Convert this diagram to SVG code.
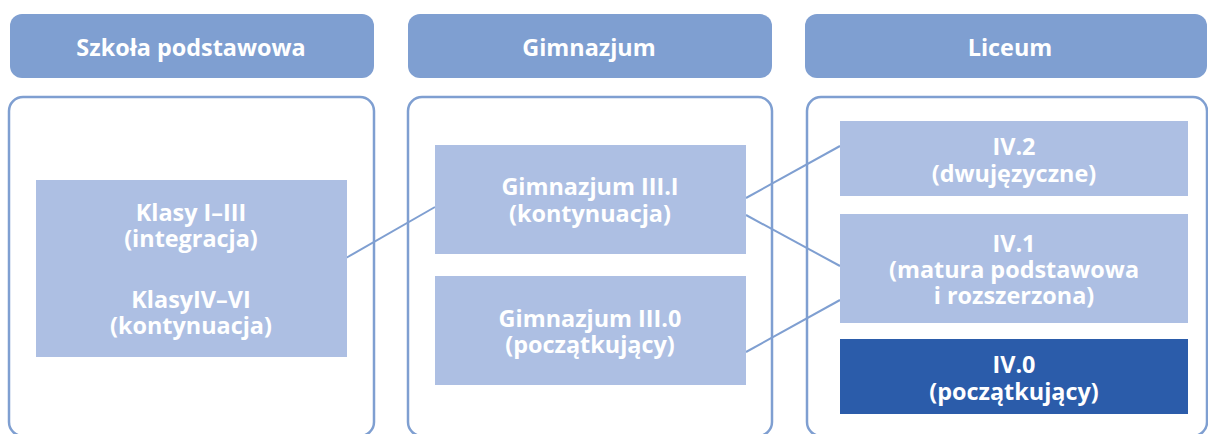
<svg xmlns="http://www.w3.org/2000/svg" width="1208" height="434" viewBox="0 0 1208 434">
<style>
.hdr{fill:#7f9fd1}
.box{fill:none;stroke:#7f9fd1;stroke-width:2.5}
.node{fill:#adbfe3}
.dark{fill:#2b5caa}
text{font-family:"Open Sans","Noto Sans","DejaVu Sans",sans-serif;font-weight:700;fill:#ffffff;text-anchor:middle}
.h{font-size:23.4px}
.t{font-size:23.4px}
.conn line{stroke:#7f9fd1;stroke-width:2}
</style>
<rect width="1208" height="434" fill="#ffffff"/>
<g id="col-szkola">
<rect class="hdr" x="10" y="14" width="364" height="64" rx="12"/>
<text class="h" x="191" y="56">Szkoła podstawowa</text>
<rect class="box" x="9" y="97" width="365" height="339" rx="14"/>
</g>
<g id="col-gimnazjum">
<rect class="hdr" x="408" y="14" width="364" height="64" rx="12"/>
<text class="h" x="589" y="56">Gimnazjum</text>
<rect class="box" x="408" y="97" width="364" height="339" rx="14"/>
</g>
<g id="col-liceum">
<rect class="hdr" x="805" y="14" width="402" height="64" rx="12"/>
<text class="h" x="1010" y="56">Liceum</text>
<rect class="box" x="807" y="97" width="400" height="339" rx="14"/>
</g>
<g class="conn" id="connectors">
<line x1="346" y1="258" x2="435" y2="207"/>
<line x1="746" y1="198" x2="840" y2="146"/>
<line x1="746" y1="215" x2="840" y2="266"/>
<line x1="746" y1="352" x2="840" y2="300"/>
</g>
<g id="klasy">
<rect class="node" x="36" y="180" width="311" height="177"/>
<text class="t" x="191" y="221">Klasy I–III</text>
<text class="t" x="191" y="247">(integracja)</text>
<text class="t" x="191" y="308">KlasyIV–VI</text>
<text class="t" x="191" y="334">(kontynuacja)</text>
</g>
<g id="gim-31">
<rect class="node" x="435" y="145" width="311" height="109"/>
<text class="t" x="590" y="195">Gimnazjum III.I</text>
<text class="t" x="590" y="222">(kontynuacja)</text>
</g>
<g id="gim-30">
<rect class="node" x="435" y="276" width="311" height="109"/>
<text class="t" x="590" y="327">Gimnazjum III.0</text>
<text class="t" x="590" y="353">(początkujący)</text>
</g>
<g id="iv2">
<rect class="node" x="840" y="121" width="348" height="75"/>
<text class="t" x="1014" y="155">IV.2</text>
<text class="t" x="1014" y="182">(dwujęzyczne)</text>
</g>
<g id="iv1">
<rect class="node" x="840" y="214" width="348" height="109"/>
<text class="t" x="1014" y="252">IV.1</text>
<text class="t" x="1014" y="278">(matura podstawowa</text>
<text class="t" x="1014" y="304">i rozszerzona)</text>
</g>
<g id="iv0">
<rect class="dark" x="840" y="339" width="348" height="75"/>
<text class="t" x="1014" y="373">IV.0</text>
<text class="t" x="1014" y="400">(początkujący)</text>
</g>
</svg>
